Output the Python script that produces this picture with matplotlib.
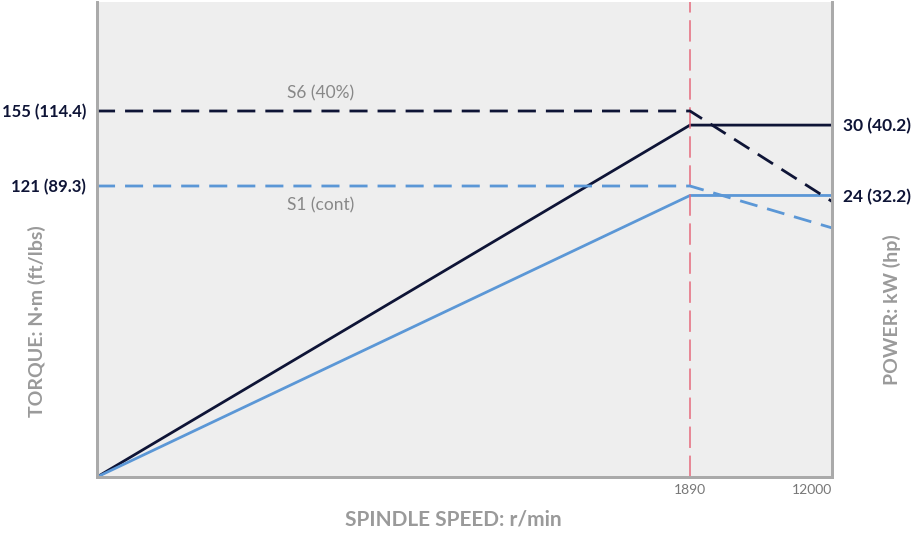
import numpy as np
import matplotlib
matplotlib.use("Agg")
import matplotlib.pyplot as plt

# ---- data ----
speed = [0, 1890, 12000]
torque_s6 = [155, 155, 114]
torque_s1 = [121, 121, 102]
power_s6 = [0, 30, 30]
power_s1 = [0, 24, 24]
torque_ticks = [155, 121]
torque_ticklabels = ["155 (114.4)", "121 (89.3)"]
power_ticks = [30, 24]
power_ticklabels = ["30 (40.2)", "24 (32.2)"]
speed_ticks = [1890, 12000]
speed_ticklabels = ["1890", "12000"]
base_speed = 1890

NAVY = "#0e1436"
BLUE = "#5b97d6"
GRAY = "#9a9a9a"
RED = "#e66a7c"
FONT = ["Lato", "DejaVu Sans"]

# piecewise x scale
xp = np.array([0.0, 1890.0, 12000.0])
fp = np.array([0.0, 1.0, 1.0 + 142.0 / 593.0])
fwd = lambda x: np.interp(x, xp, fp)
inv = lambda y: np.interp(y, fp, xp)

fig = plt.figure(figsize=(9.24, 5.33), dpi=100)
ax = fig.add_axes([97 / 924, 56 / 533, (832 - 97) / 924, 475 / 533])
ax.set_xscale("function", functions=(fwd, inv))
ax.set_xlim(0, 12000)
ax.set_facecolor("#eeeeee")

# power axis on the main axes (right side labels), torque on twin
ax.set_ylim(0, 475 / 11.73)
axt = ax.twinx()
px_per = 75 / 34
bottom = 155 - (477 - 111) / px_per
axt.set_ylim(bottom, bottom + 475 / px_per)

ax.plot(speed, power_s6, color=NAVY, lw=2.0, solid_capstyle="butt")
ax.plot(speed, power_s1, color=BLUE, lw=2.0, solid_capstyle="butt")
axt.plot(speed, torque_s6, color=NAVY, lw=2.0, dashes=(6.5, 3.6))
axt.plot(speed, torque_s1, color=BLUE, lw=2.0, dashes=(6.5, 3.6))
ax.axvline(base_speed, color=RED, lw=1.1, dashes=(14, 5))

axt.text(606, 163.2, "S6 (40%)", color="#888888", fontsize=12.5, family=FONT,
         ha="left", va="center")
axt.text(606, 112.4, "S1 (cont)", color="#888888", fontsize=12.5, family=FONT,
         ha="left", va="center")

# ticks: torque labels on left, power labels on right
axt.yaxis.tick_left()
axt.set_yticks(torque_ticks)
axt.set_yticklabels(torque_ticklabels, fontsize=12, color=NAVY, family=FONT, fontweight="bold")
axt.tick_params(axis="y", length=0, pad=8)
ax.yaxis.tick_right()
ax.set_yticks(power_ticks)
ax.set_yticklabels(power_ticklabels, fontsize=12.5, color=NAVY, family=FONT, fontweight="bold")
ax.tick_params(axis="y", length=0, pad=8)
ax.set_xticks(speed_ticks)
ax.set_xticklabels(speed_ticklabels, fontsize=10, color="#777777", family=FONT)
ax.tick_params(axis="x", length=0, pad=5)
ax.get_xticklabels()[1].set_ha("right")

for a in (ax, axt):
    for s in ("left", "bottom", "right"):
        a.spines[s].set_color("#aaaaaa")
        a.spines[s].set_linewidth(2)
    a.spines["top"].set_visible(False)

fig.text(37 / 924, 1 - 321 / 533, "TORQUE: N·m (ft/lbs)", rotation=90, ha="center", va="center",
         fontsize=14, fontweight="bold", color=GRAY, family=FONT)
fig.text(892 / 924, 1 - 310 / 533, "POWER: kW (hp)", rotation=90, ha="center", va="center",
         fontsize=14, fontweight="bold", color=GRAY, family=FONT)
fig.text(453 / 924, 1 - 520 / 533, "SPINDLE SPEED: r/min", ha="center", va="center",
         fontsize=15, fontweight="bold", color=GRAY, family=FONT)

fig.savefig("out.png", dpi=100)
